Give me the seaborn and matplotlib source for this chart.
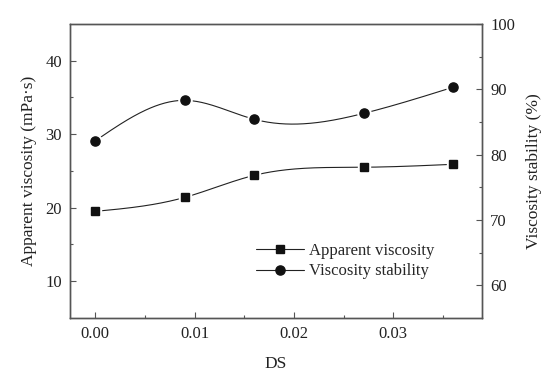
import numpy as np
import pandas as pd
import matplotlib
matplotlib.use("Agg")
import matplotlib.pyplot as plt
import seaborn as sns
from matplotlib.lines import Line2D
from matplotlib.ticker import MultipleLocator, FixedLocator, FormatStrFormatter

# data
ds = [0.000, 0.009, 0.016, 0.027, 0.036]
apparent_viscosity = [19.5, 21.4, 24.4, 25.5, 25.9]
viscosity_stability = [82.1, 88.3, 85.4, 86.3, 90.3]


def natural_spline(x, y, n=300):
    # natural cubic spline used only to draw the connecting curve
    x = np.asarray(x, float)
    y = np.asarray(y, float)
    k = len(x)
    h = np.diff(x)
    A = np.zeros((k, k))
    b = np.zeros(k)
    A[0, 0] = 1
    A[-1, -1] = 1
    for i in range(1, k - 1):
        A[i, i - 1] = h[i - 1]
        A[i, i] = 2 * (h[i - 1] + h[i])
        A[i, i + 1] = h[i]
        b[i] = 6 * ((y[i + 1] - y[i]) / h[i] - (y[i] - y[i - 1]) / h[i - 1])
    M = np.linalg.solve(A, b)
    xs = np.linspace(x[0], x[-1], n)
    idx = np.clip(np.searchsorted(x, xs) - 1, 0, k - 2)
    x0, x1 = x[idx], x[idx + 1]
    hh = x1 - x0
    t0, t1 = x1 - xs, xs - x0
    ys = (M[idx] * t0 ** 3 + M[idx + 1] * t1 ** 3) / (6 * hh) \
        + (y[idx] / hh - M[idx] * hh / 6) * t0 \
        + (y[idx + 1] / hh - M[idx + 1] * hh / 6) * t1
    return xs, ys


sns.set_style("ticks")
plt.rcParams['font.family'] = ['Liberation Serif', 'DejaVu Serif']
plt.rcParams['font.size'] = 12

fig, ax = plt.subplots(figsize=(5.5, 3.79), dpi=100)
fig.subplots_adjust(left=0.128, right=0.876, top=0.937, bottom=0.161)
ax2 = ax.twinx()

# apparent viscosity on left axis
xs, ys = natural_spline(ds, apparent_viscosity)
sns.lineplot(x=xs, y=ys, ax=ax, color='#222222', linewidth=0.8, zorder=2)
ax.plot(ds, apparent_viscosity, linestyle='none', marker='s', markersize=8.5,
        color='white', zorder=3)
ax.plot(ds, apparent_viscosity, linestyle='none', marker='s', markersize=5.6,
        color='#111111', zorder=4)

# viscosity stability on right axis
xs2, ys2 = natural_spline(ds, viscosity_stability)
sns.lineplot(x=xs2, y=ys2, ax=ax2, color='#222222', linewidth=0.8, zorder=2)
ax2.plot(ds, viscosity_stability, linestyle='none', marker='o', markersize=9.5,
         color='white', zorder=3)
ax2.plot(ds, viscosity_stability, linestyle='none', marker='o', markersize=6.6,
         color='#111111', zorder=4)

ax.set_xlim(-0.0025, 0.0389)
ax.set_ylim(5, 45)
ax2.set_ylim(55, 100)

ax.xaxis.set_major_locator(MultipleLocator(0.01))
ax.xaxis.set_minor_locator(FixedLocator([0.005, 0.015, 0.025, 0.035]))
ax.yaxis.set_major_locator(MultipleLocator(10))
ax.yaxis.set_minor_locator(FixedLocator([15, 25, 35]))
ax2.yaxis.set_major_locator(MultipleLocator(10))
ax2.yaxis.set_minor_locator(FixedLocator([65, 75, 85, 95]))
ax.xaxis.set_major_formatter(FormatStrFormatter('%.2f'))

for a in (ax, ax2):
    for s in a.spines.values():
        s.set_visible(True)
        s.set_color('#555555')
        s.set_linewidth(1.0)
    a.tick_params(which='major', direction='in', length=4.5, width=0.8,
                  color='#555555', labelsize=12, labelcolor='#222222', pad=6)
    a.tick_params(which='minor', direction='in', length=2.5, width=0.8,
                  color='#555555')
ax.tick_params(axis='y', which='both', right=False)
ax2.tick_params(axis='y', which='both', left=False)
ax.tick_params(axis='x', which='both', top=False)

ax.set_xlabel('DS', fontsize=12.5, color='#222222', labelpad=10)
ax.set_ylabel('Apparent viscosity (mPa·s)', fontsize=12.5, color='#222222', labelpad=6)
ax2.set_ylabel('Viscosity stability (%)', fontsize=12.5, color='#222222', labelpad=8)

handles = [
    Line2D([], [], color='#222222', linewidth=0.8, marker='s', markersize=5.6,
           markerfacecolor='#111111', markeredgecolor='#111111'),
    Line2D([], [], color='#222222', linewidth=0.8, marker='o', markersize=6.6,
           markerfacecolor='#111111', markeredgecolor='#111111'),
]
ax2.legend(handles, ['Apparent viscosity', 'Viscosity stability'],
           loc='lower left', bbox_to_anchor=(0.415, 0.08), frameon=False,
           fontsize=12, handlelength=2.9, handletextpad=0.25, labelspacing=0.25)

fig.savefig('out.png', dpi=100)
